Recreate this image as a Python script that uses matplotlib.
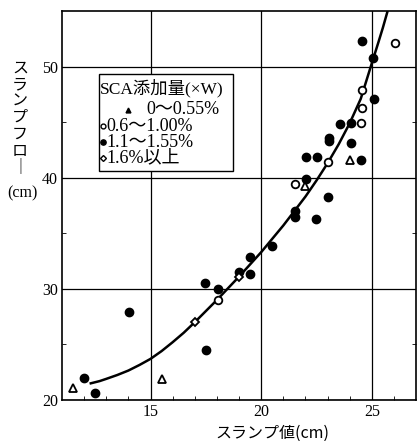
import numpy as np
import matplotlib
matplotlib.use("Agg")
import matplotlib.pyplot as plt
from matplotlib.patches import Rectangle

# データ
tri_x = [11.5, 15.5, 22.0, 24.0]
tri_y = [21.05, 21.9, 39.3, 41.6]

open_x = [26.07, 24.57, 24.57, 24.52, 23.03, 21.53, 18.06]
open_y = [52.1, 47.9, 46.3, 44.9, 41.4, 39.4, 29.0]

fill_x = [24.54, 25.05, 25.1, 23.55, 24.08, 23.06, 23.06, 24.08, 22.04, 22.54,
          24.5, 22.01, 23.03, 21.53, 21.53, 22.49, 20.48, 19.49, 18.98, 19.5,
          17.48, 18.03, 14.02, 17.51, 11.98, 12.48]
fill_y = [52.3, 50.8, 47.1, 44.8, 44.9, 43.6, 43.3, 43.1, 41.9, 41.9,
          41.6, 39.9, 38.3, 37.0, 36.5, 36.3, 33.9, 32.9, 31.5, 31.3,
          30.5, 30.0, 27.95, 24.5, 22.0, 20.6]

dia_x = [17.0, 18.98]
dia_y = [27.0, 31.1]

# 回帰曲線 (読み取り点)
curve_x = [12.3, 12.7, 13, 13.5, 14, 14.5, 15, 15.5, 16, 16.5, 17, 17.5, 18, 18.5,
           19, 19.5, 20, 20.5, 21, 21.5, 22, 22.5, 23, 23.5, 24, 24.5, 25, 25.3,
           25.5, 25.7]
curve_y = [21.5, 21.7, 21.9, 22.25, 22.65, 23.15, 23.7, 24.4, 25.2, 26.05, 27.0, 28.0,
           29.0, 30.05, 31.1, 32.2, 33.3, 34.5, 35.7, 37.0, 38.3, 39.75, 41.3, 43.0,
           44.9, 47.1, 50.3, 52.2, 53.5, 54.9]

legend_title = "SCA添加量(×W)"
legend_labels = ["0～0.55%", "0.6～1.00%", "1.1～1.55%", "1.6%以上"]
xlabel = "スランプ値(cm)"
ylabel_chars = ["ス", "ラ", "ン", "プ", "フ", "ロ", "｜"]

fam = ['Liberation Serif', 'Noto Sans CJK JP']
jp = ['Noto Sans CJK JP', 'Liberation Serif']

fig = plt.figure(figsize=(4.19, 4.41), dpi=100)
ax = fig.add_axes([0.148, 0.093, 0.845, 0.882])

ax.plot(curve_x, curve_y, color='black', lw=1.8, zorder=3)
ax.plot(fill_x, fill_y, 'o', ms=6, mfc='black', mec='black', zorder=4)
ax.plot(open_x, open_y, 'o', ms=5.5, mfc='white', mec='black', mew=1.3, zorder=4)
ax.plot(tri_x, tri_y, '^', ms=5.5, mfc='white', mec='black', mew=1.3, zorder=4)
ax.plot(dia_x, dia_y, 'D', ms=4.2, mfc='white', mec='black', mew=1.3, zorder=4)

ax.set_xlim(11, 27)
ax.set_ylim(20, 55)
ax.set_xticks([15, 20, 25])
ax.set_yticks([20, 30, 40, 50])
ax.set_xticks(np.arange(12, 27, 1), minor=True)
ax.set_yticks([25, 35, 45], minor=True)
ax.tick_params(which='both', direction='in', top=False, right=True, labelsize=11.5)
ax.tick_params(which='major', length=0, pad=3)
ax.tick_params(which='minor', length=3)
for lab in ax.get_xticklabels() + ax.get_yticklabels():
    lab.set_family(fam)
ax.grid(True, which='major', color='black', lw=0.9)
for s in ax.spines.values():
    s.set_linewidth(1.2)

# 凡例
ax.add_patch(Rectangle((0.104, 0.589), 0.379, 0.249, transform=ax.transAxes,
                       facecolor='white', edgecolor='black', lw=1.0, zorder=5))
ax.text(0.108, 0.802, legend_title, transform=ax.transAxes, fontsize=12.5,
        family=fam, va='center', ha='left', zorder=6)
row_y = [0.746, 0.704, 0.663, 0.622]
mk = [('^', 'black', 3.5), ('o', 'white', 3.5), ('o', 'black', 3.8), ('D', 'white', 3)]
mk_x = [0.186, 0.115, 0.115, 0.115]
tx_x = [0.238, 0.126, 0.126, 0.126]
for i in range(4):
    ax.plot(mk_x[i], row_y[i], mk[i][0], ms=mk[i][2], mfc=mk[i][1], mec='black',
            mew=1.0, transform=ax.transAxes, zorder=6)
    ax.text(tx_x[i], row_y[i], legend_labels[i], transform=ax.transAxes,
            fontsize=13, family=fam, va='center', ha='left', zorder=6)

# 軸ラベル
fig.text(272 / 419, 1 - 433 / 441, xlabel, fontsize=11.5, family=jp,
         ha='center', va='center')
for i, ch in enumerate(ylabel_chars):
    fig.text(20 / 419, 1 - (68 + i * 16.5) / 441, ch, fontsize=11.5, family=jp,
             ha='center', va='center')
fig.text(22 / 419, 1 - 193 / 441, "(cm)", fontsize=11.5, family=fam,
         ha='center', va='center')

fig.savefig("out.png", dpi=100)
